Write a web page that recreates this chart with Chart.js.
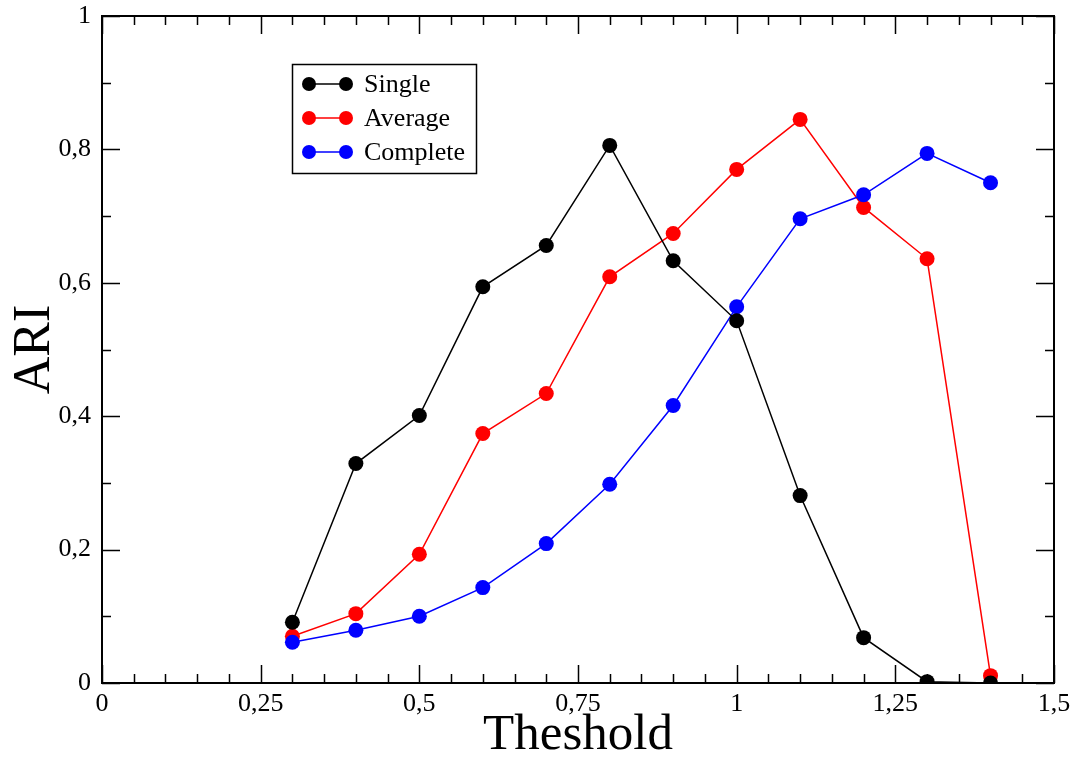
<!DOCTYPE html>
<html>
<head>
<meta charset="utf-8">
<script src="https://cdn.jsdelivr.net/npm/chart.js@4.4.1/dist/chart.umd.min.js"></script>
<style>
  html, body { margin: 0; padding: 0; background: #fff; }
  canvas { display: block; }
</style>
</head>
<body>
<canvas id="ariChart" width="1078" height="769"></canvas>
<script>
// valeurs
const thresholds  = [0.3, 0.4, 0.5, 0.6, 0.7, 0.8, 0.9, 1.0, 1.1, 1.2, 1.3, 1.4];
const singleAri   = [0.091, 0.329, 0.401, 0.594, 0.656, 0.806, 0.633, 0.543, 0.281, 0.068, 0.002, 0.0];
const averageAri  = [0.070, 0.104, 0.193, 0.374, 0.434, 0.609, 0.674, 0.770, 0.845, 0.713, 0.636, 0.011];
const completeAri = [0.061, 0.079, 0.100, 0.143, 0.209, 0.298, 0.416, 0.564, 0.696, 0.732, 0.794, 0.750];

const seriesNames  = ["Single", "Average", "Complete"];
const seriesColors = ["#000000", "#ff0000", "#0000ff"];

const xTickValues = [0, 0.25, 0.5, 0.75, 1, 1.25, 1.5];
const yTickValues = [0, 0.2, 0.4, 0.6, 0.8, 1];
const xMinorStep = 0.05;
const yMinorStep = 0.1;

const SERIF = "'Liberation Serif', 'DejaVu Serif', serif";

const fmt = v => String(Math.round(v * 100) / 100).replace(".", ",");
const toPoints = ys => thresholds.map((x, i) => ({ x, y: ys[i] }));

// cadre + graduations vers l'intérieur, sur les 4 côtés
const frameTicks = {
  id: "frameTicks",
  beforeDatasetsDraw(chart){
    const { ctx, chartArea: a, scales: { x, y } } = chart;
    ctx.save();
    ctx.strokeStyle = "#000";
    ctx.lineWidth = 1.5;
    ctx.beginPath();
    for (let v = 0; v <= 1.5 + 1e-9; v += xMinorStep){
      const px = Math.round(x.getPixelForValue(v)) + 0.5;
      const major = xTickValues.some(t => Math.abs(t - v) < 1e-6);
      const len = major ? 18 : 9;
      ctx.moveTo(px, a.bottom); ctx.lineTo(px, a.bottom - len);
      ctx.moveTo(px, a.top);    ctx.lineTo(px, a.top + len);
    }
    for (let v = 0; v <= 1 + 1e-9; v += yMinorStep){
      const py = Math.round(y.getPixelForValue(v)) + 0.5;
      const major = yTickValues.some(t => Math.abs(t - v) < 1e-6);
      const len = major ? 18 : 9;
      ctx.moveTo(a.left, py);  ctx.lineTo(a.left + len, py);
      ctx.moveTo(a.right, py); ctx.lineTo(a.right - len, py);
    }
    ctx.stroke();
    ctx.lineWidth = 2;
    ctx.strokeRect(a.left, a.top, a.right - a.left, a.bottom - a.top);
    ctx.restore();
  }
};

// légende encadrée dans la zone du graphe
const boxLegend = {
  id: "boxLegend",
  afterDraw(chart){
    const { ctx } = chart;
    const bx = 292, by = 64, bw = 184, bh = 109;
    ctx.save();
    ctx.fillStyle = "#fff";
    ctx.fillRect(bx, by, bw, bh);
    ctx.strokeStyle = "#000";
    ctx.lineWidth = 1.5;
    ctx.strokeRect(bx + 0.5, by + 0.5, bw, bh);
    ctx.font = "26px " + SERIF;
    ctx.textBaseline = "middle";
    chart.data.datasets.forEach((ds, i) => {
      const cy = by + 20 + i * 34;
      ctx.strokeStyle = ds.borderColor;
      ctx.fillStyle = ds.borderColor;
      ctx.lineWidth = 1.5;
      ctx.beginPath(); ctx.moveTo(309, cy); ctx.lineTo(346, cy); ctx.stroke();
      for (const cx of [309, 346]){
        ctx.beginPath(); ctx.arc(cx, cy, 7, 0, Math.PI * 2); ctx.fill();
      }
      ctx.fillStyle = "#000";
      ctx.fillText(ds.label, 364, cy + 1);
    });
    ctx.restore();
  }
};

const seriesData = [singleAri, averageAri, completeAri];
const drawOrder = [0, 2, 1]; // Single au-dessus, Average en dessous

new Chart(document.getElementById("ariChart"), {
  type: "line",
  data: {
    datasets: seriesData.map((ys, i) => ({
      label: seriesNames[i],
      data: toPoints(ys),
      borderColor: seriesColors[i],
      backgroundColor: seriesColors[i],
      pointBackgroundColor: seriesColors[i],
      pointBorderColor: seriesColors[i],
      pointBorderWidth: 0,
      pointRadius: 7.5,
      pointHoverRadius: 7.5,
      borderWidth: 1.5,
      tension: 0,
      order: drawOrder[i]
    }))
  },
  options: {
    responsive: false,
    animation: false,
    devicePixelRatio: 1,
    layout: { padding: { top: 16, right: 24, left: 0, bottom: 0 } },
    plugins: { legend: { display: false }, tooltip: { enabled: false } },
    scales: {
      x: {
        type: "linear",
        min: 0, max: 1.5,
        afterBuildTicks: s => { s.ticks = xTickValues.map(v => ({ value: v })); },
        afterFit: s => { s.height = 86; s.paddingLeft = 0; s.paddingRight = 0; },
        grid: { display: false, drawTicks: false },
        border: { display: false },
        ticks: { color: "#000", padding: 6, maxRotation: 0, font: { family: SERIF, size: 26 }, callback: fmt },
        title: { display: true, text: "Theshold", color: "#000", padding: { top: 0, bottom: 3 }, font: { family: SERIF, size: 51 } }
      },
      y: {
        type: "linear",
        min: 0, max: 1,
        afterBuildTicks: s => { s.ticks = yTickValues.map(v => ({ value: v })); },
        afterFit: s => { s.width = 102; s.paddingTop = 0; s.paddingBottom = 0; },
        grid: { display: false, drawTicks: false },
        border: { display: false },
        ticks: { color: "#000", padding: 11, font: { family: SERIF, size: 26 }, callback: fmt },
        title: { display: true, text: "ARI", color: "#000", padding: { top: 4, bottom: 0 }, font: { family: SERIF, size: 52 } }
      }
    }
  },
  plugins: [frameTicks, boxLegend]
});
</script>
</body>
</html>
